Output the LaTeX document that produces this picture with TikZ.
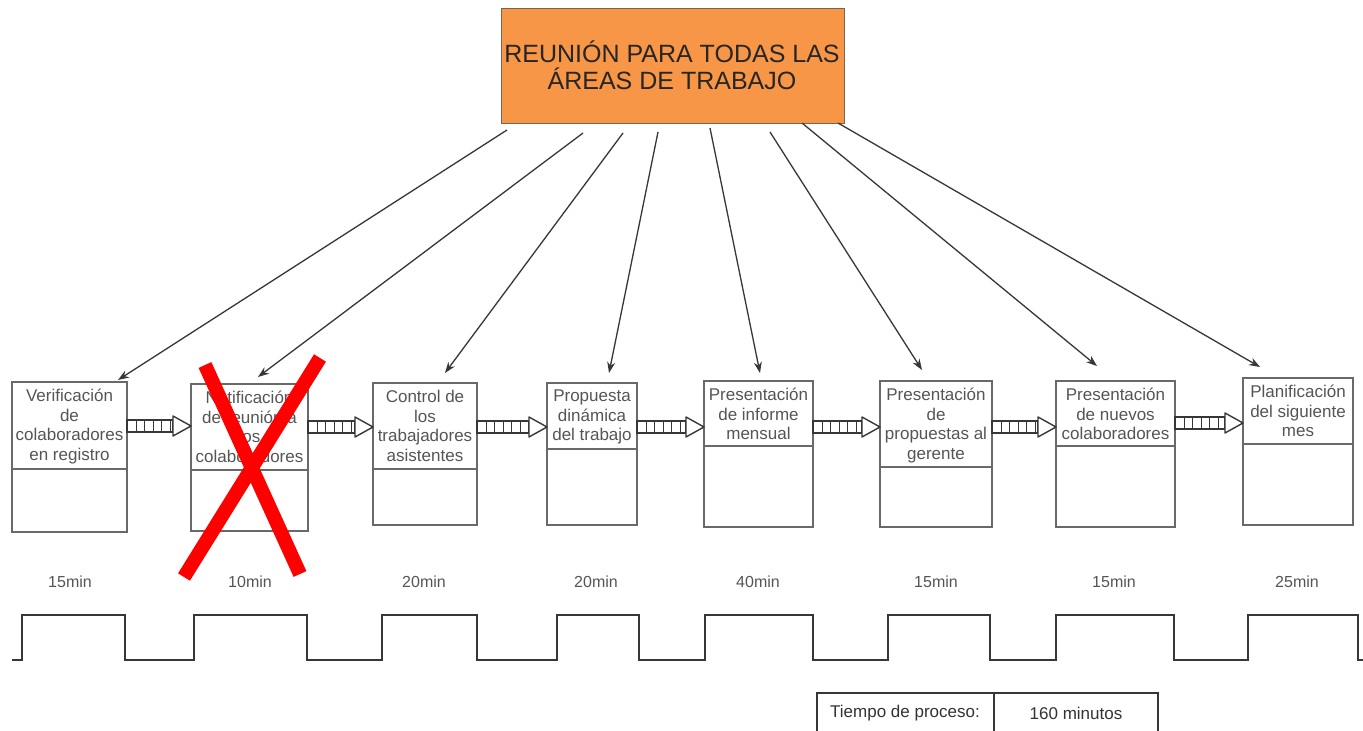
\documentclass[tikz,border=0pt]{standalone}
\usepackage{fontspec}
\setmainfont{Liberation Sans}
\usetikzlibrary{arrows.meta,calc}
\definecolor{orangefill}{RGB}{247,150,70}
\definecolor{orangeedge}{RGB}{120,100,80}
\definecolor{txtgray}{RGB}{85,85,85}
\definecolor{linegray}{RGB}{55,55,55}
\definecolor{boxgray}{RGB}{105,105,105}
\definecolor{xred}{RGB}{255,0,0}
\tikzset{
  x=1pt, y=-1pt,
  topbox/.style={draw=orangeedge, line width=1pt, fill=orangefill, inner sep=0pt, outer sep=0pt},
  toptext/.style={font=\fontsize{25}{27}\selectfont, text=black!85, inner sep=0pt},
  stagebox/.style={draw=boxgray, line width=1.4pt, fill=white, inner sep=0pt, outer sep=0pt},
  stagetext/.style={font=\fontsize{17}{19.5}\selectfont, text=txtgray, align=center, inner xsep=0pt, inner ysep=7pt},
  divider/.style={draw=boxgray, line width=1.4pt},
  conn/.style={draw=linegray, line width=1.3pt, -{Stealth[length=11pt,width=8pt]}},
  shaftline/.style={draw=linegray, line width=1.2pt, fill=white},
  stripes/.style={draw=linegray, line width=12pt, dash pattern=on 1.3pt off 7.2pt},
  headline/.style={draw=linegray, line width=1.4pt, fill=white, line join=round},
  timelabel/.style={font=\fontsize{16}{18}\selectfont, text=txtgray, inner sep=0pt},
  wave/.style={draw=linegray, line width=2pt, line join=miter},
  cross/.style={draw=xred, line width=14pt, line cap=butt},
  sumbox/.style={draw=linegray, line width=1.2pt, inner sep=0pt, outer sep=0pt, font=\fontsize{17}{19}\selectfont, text=black!80},
}
\newcommand\stagebx[7]{%
  \node[stagebox, anchor=north west, minimum width={#4pt-#2pt}, minimum height={#5pt-#3pt}] (#1) at (#2,#3) {};
  \draw[divider] (#1.west |- 0,#6) -- (#1.east |- 0,#6);
  \node[stagetext, anchor=north] (#1t) at (#1.north) {#7};
}
\newcommand\flowarrow[3]{%
  \coordinate (fy) at (0,#3);
  \coordinate (fs) at (#1.east |- fy);
  \coordinate (ft) at (#2.west |- fy);
  \coordinate (fh) at ($(ft)+(-18,0)$);
  \draw[shaftline] ($(fs)+(0,-6)$) rectangle ($(fh)+(0,6)$);
  \draw[stripes] (fs) -- (fh);
  \draw[headline] ($(fh)+(0,-10)$) -- (ft) -- ($(fh)+(0,10)$) -- cycle;
}
\begin{document}
\begin{tikzpicture}
\useasboundingbox (0,0) rectangle (1363,731);
\fill[white] (0,0) rectangle (1363,731);

% top box
\node[topbox, anchor=north west, minimum width=343pt, minimum height=115pt] (top) at (501,8) {};
\node[toptext, anchor=base] (top1) at (672,62) {REUNIÓN PARA TODAS LAS};
\node[toptext, anchor=base] (top2) at (672,89) {ÁREAS DE TRABAJO};

% stage boxes
\stagebx{b1}{12}{382}{127}{532}{469}{Verificación\\de\\colaboradores\\en registro}
\stagebx{b2}{191}{384}{308}{531}{470}{Notificación\\de reunión a\\los\\colaboradores}
\stagebx{b3}{373}{383}{477}{525}{469}{Control de\\los\\trabajadores\\asistentes}
\stagebx{b4}{547}{383}{637}{525}{449}{Propuesta\\dinámica\\del trabajo}
\stagebx{b5}{704}{381}{813}{527}{446}{Presentación\\de informe\\mensual}
\stagebx{b6}{880}{381}{992}{527}{467}{Presentación\\de\\propuestas al\\gerente}
\stagebx{b7}{1056}{381}{1175}{527}{446}{Presentación\\de nuevos\\colaboradores}
\stagebx{b8}{1243}{378}{1353}{525}{444}{Planificación\\del siguiente\\mes}

% connectors from top box
\coordinate (s1) at (507,130);  \coordinate (e1) at (118,380);
\coordinate (s2) at (583,133);  \coordinate (e2) at (258,377);
\coordinate (s3) at (623,133);  \coordinate (e3) at (445,373);
\coordinate (s4) at (658,132);  \coordinate (e4) at (609,373);
\coordinate (s5) at (710,128);  \coordinate (e5) at (760,373);
\coordinate (s6) at (770,132);  \coordinate (e6) at (922,370);
\coordinate (s7) at (802,123);  \coordinate (e7) at (1097,366);
\coordinate (s8) at (838,123);  \coordinate (e8) at (1260,367);
\foreach \i in {1,...,8} { \draw[conn] (s\i) -- (e\i); }

% striped flow arrows
\flowarrow{b1}{b2}{426}
\flowarrow{b2}{b3}{427}
\flowarrow{b3}{b4}{427}
\flowarrow{b4}{b5}{427}
\flowarrow{b5}{b6}{427}
\flowarrow{b6}{b7}{427}
\flowarrow{b7}{b8}{423}

% red cross
\draw[cross] (205,365) -- (300,574);
\draw[cross] (320,358) -- (184,577);

% time labels
\node[timelabel] (t1) at (70,582) {15min};
\node[timelabel] (t2) at (250,582) {10min};
\node[timelabel] (t3) at (424,582) {20min};
\node[timelabel] (t4) at (596,582) {20min};
\node[timelabel] (t5) at (758,582) {40min};
\node[timelabel] (t6) at (936,582) {15min};
\node[timelabel] (t7) at (1114,582) {15min};
\node[timelabel] (t8) at (1297,582) {25min};

% square wave
\draw[wave] (12,660) -- (22,660) -- (22,615) -- (125,615) -- (125,660)
  -- (194,660) -- (194,615) -- (307,615) -- (307,660)
  -- (382,660) -- (382,615) -- (477,615) -- (477,660)
  -- (557,660) -- (557,615) -- (639,615) -- (639,660)
  -- (705,660) -- (705,615) -- (813,615) -- (813,660)
  -- (888,660) -- (888,615) -- (990,615) -- (990,660)
  -- (1056,660) -- (1056,615) -- (1174,615) -- (1174,660)
  -- (1248,660) -- (1248,615) -- (1358,615) -- (1358,660) -- (1365,660);

% process time box
\node[sumbox, anchor=north west, minimum width=177pt, minimum height=42pt] (pt1) at (817,693) {};
\node[sumbox, anchor=north west, minimum width=164pt, minimum height=42pt] (pt2) at (994,693) {};
\node[font=\fontsize{17}{19}\selectfont, text=black!80, inner sep=0pt] (pt1t) at (905,713) {Tiempo de proceso:};
\node[font=\fontsize{17}{19}\selectfont, text=black!80, inner sep=0pt] (pt2t) at (1076,713) {160 minutos};
\end{tikzpicture}
\end{document}
